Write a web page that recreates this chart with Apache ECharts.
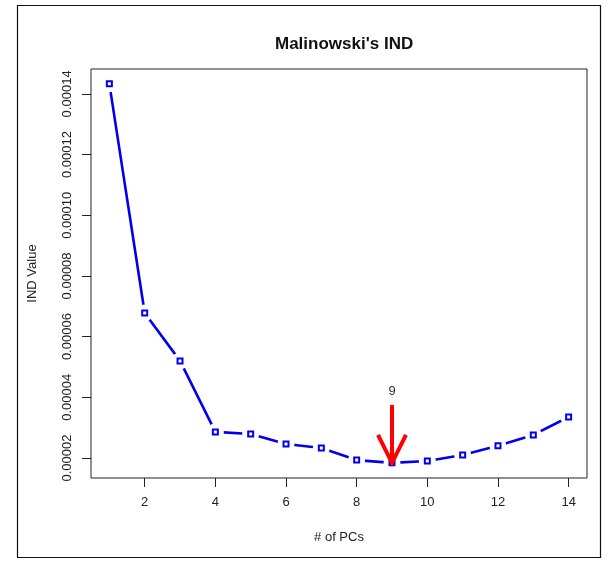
<!DOCTYPE html>
<html>
<head>
<meta charset="utf-8">
<script src="https://cdn.jsdelivr.net/npm/echarts@6/dist/echarts.min.js"></script>
<style>html,body{margin:0;padding:0;background:#fff}#c{width:611px;height:569px}</style>
</head>
<body>
<div id="c"></div>
<script>
// ---- data ----
var pcs = [1,2,3,4,5,6,7,8,9,10,11,12,13,14];
var indValues = [0.0001433,0.0000678,0.0000520,0.0000286,0.0000279,0.0000246,0.0000233,0.0000193,0.0000184,0.0000190,0.0000210,0.0000240,0.0000276,0.0000335];
var xTicks = [2,4,6,8,10,12,14];
var yTicks = [0.00002,0.00004,0.00006,0.00008,0.00010,0.00012,0.00014];
var bestPC = 9;
var arrowTop = 0.0000375;
var titleText = "Malinowski's IND";
var xName = "# of PCs";
var yName = "IND Value";

var pts = pcs.map(function(p,i){return [p, indValues[i]];});
var FONT = '"Liberation Sans", Arial, sans-serif';

var chart = echarts.init(document.getElementById('c'), null, {renderer:'canvas'});
chart.setOption({
  animation:false,
  backgroundColor:'#fff',
  title:{text:titleText,left:270,top:31,
    textStyle:{fontFamily:FONT,fontWeight:'bold',fontSize:17,color:'#111'}},
  grid:{left:91,top:69,right:24,bottom:91,show:true,borderColor:'#222',borderWidth:1,backgroundColor:'transparent'},
  graphic:[{type:'rect',shape:{x:17.5,y:5.5,width:583,height:552},style:{fill:'none',stroke:'#111',lineWidth:1.2},silent:true}],
  xAxis:{type:'value',min:0.48,max:14.52,
    name:xName,nameLocation:'middle',nameGap:53,
    nameTextStyle:{fontFamily:FONT,fontSize:13,color:'#222'},
    axisLine:{show:false},splitLine:{show:false},
    axisTick:{show:true,inside:false,length:9,customValues:xTicks,lineStyle:{color:'#222',width:1}},
    axisLabel:{customValues:xTicks,margin:18,fontFamily:FONT,fontSize:13,color:'#222'}},
  yAxis:{type:'value',min:0.0000134,max:0.0001482,
    name:yName,nameLocation:'middle',nameGap:52,nameRotate:90,
    nameTextStyle:{fontFamily:FONT,fontSize:13,color:'#222'},
    axisLine:{show:false},splitLine:{show:false},
    axisTick:{show:true,inside:false,length:9,customValues:yTicks,lineStyle:{color:'#222',width:1}},
    axisLabel:{customValues:yTicks,rotate:90,margin:24,fontFamily:FONT,fontSize:13,color:'#222',
      align:'center',verticalAlign:'middle',
      formatter:function(v){return v.toFixed(5);}}},
  series:[
    {type:'line',data:pts,showSymbol:false,symbol:'none',z:2,
      lineStyle:{color:'#0000EE',width:2.6},silent:true},
    {type:'scatter',data:pts,symbol:'circle',symbolSize:17,z:3,
      itemStyle:{color:'#fff',opacity:1},silent:true},
    {type:'scatter',data:pts,symbol:'rect',symbolSize:5,z:4,
      itemStyle:{color:'#fff',borderColor:'#0000EE',borderWidth:2,opacity:1},silent:true},
    {type:'custom',z:5,clip:false,silent:true,
      data:[[bestPC, arrowTop, indValues[pcs.indexOf(bestPC)]]],
      renderItem:function(params,api){
        var top = api.coord([api.value(0), api.value(1)]);
        var tip = api.coord([api.value(0), api.value(2)]);
        var st = {stroke:'#FF0000',lineWidth:4,lineCap:'butt'};
        return {type:'group',children:[
          {type:'line',shape:{x1:top[0],y1:top[1],x2:tip[0],y2:tip[1]},style:st},
          {type:'polyline',shape:{points:[[tip[0]-14,tip[1]-28],[tip[0],tip[1]],[tip[0]+14,tip[1]-28]]},style:{stroke:'#FF0000',lineWidth:4,fill:null,lineJoin:'miter'}},
          {type:'text',x:top[0],y:top[1]-13,style:{text:String(api.value(0)),fontFamily:FONT,fontSize:13,fill:'#333',align:'center',verticalAlign:'middle'}}
        ]};
      }}
  ]
});
</script>
</body>
</html>
